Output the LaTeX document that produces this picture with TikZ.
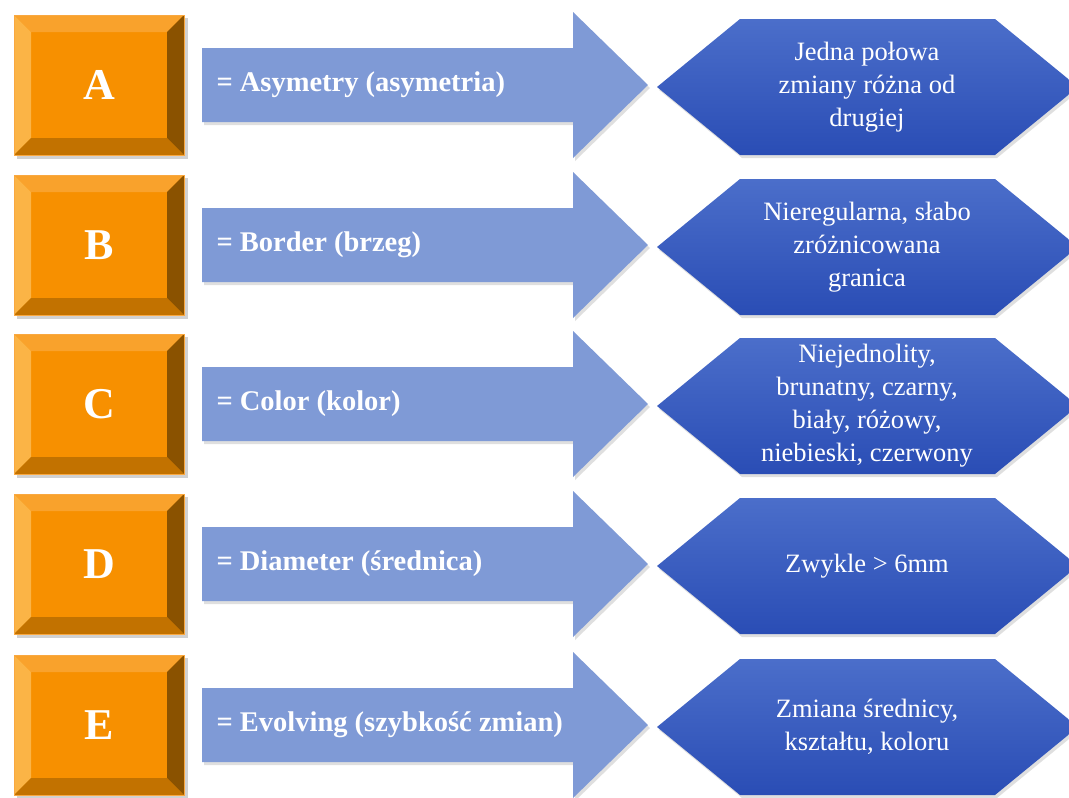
\documentclass[tikz,border=0pt]{standalone}
\usepackage{fontspec}
\setmainfont{Liberation Serif}
\usetikzlibrary{shadows}
\definecolor{orFace}{HTML}{F79000}
\definecolor{orTop}{HTML}{F9A22C}
\definecolor{orLeft}{HTML}{FBB446}
\definecolor{orRight}{HTML}{8A5200}
\definecolor{orBot}{HTML}{C27200}
\definecolor{orEdge}{HTML}{F9A840}
\definecolor{arrowBlue}{HTML}{7F9AD6}
\definecolor{hexTop}{HTML}{4B6ECA}
\definecolor{hexBot}{HTML}{2A4DB5}
\newcommand\abcdrow[5]{%
  % bevelled orange box
  \fill[black,opacity=0.18] (17,#2-67) rectangle (188,#2+74);
  \fill[orFace] (14,#2-70) rectangle (184,#2+70);
  \fill[orTop] (14,#2-70) -- (184,#2-70) -- (167,#2-53) -- (31,#2-53) -- cycle;
  \fill[orLeft] (14,#2-70) -- (31,#2-53) -- (31,#2+53) -- (14,#2+70) -- cycle;
  \fill[orRight] (184,#2-70) -- (184,#2+70) -- (167,#2+53) -- (167,#2-53) -- cycle;
  \fill[orBot] (14,#2+70) -- (184,#2+70) -- (167,#2+53) -- (31,#2+53) -- cycle;
  \draw[orEdge, line width=0.8pt] (14,#2-70) rectangle (184,#2+70);
  \node[lettertext] (L#1) at (99,#2) {#3};
  % arrow
  \fill[arrowshape] (202,#2-37) -- (573,#2-37) -- (573,#2-73) -- (648,#2) -- (573,#2+73) -- (573,#2+37) -- (202,#2+37) -- cycle;
  \node[arrowtext] (T#1) at (213,#2) {#4};
  % hexagon
  \path[hexshape] (657,#2+2) -- (740,#2-66) -- (995,#2-66) -- (1078,#2+2) -- (995,#2+70) -- (740,#2+70) -- cycle;
  \node[hextext] (H#1) at (867,#2+2) {#5};
}
\begin{document}
\begin{tikzpicture}[x=1pt,y=-1pt,
  lettertext/.style={text=white, font=\fontsize{44}{44}\selectfont\bfseries},
  arrowtext/.style={anchor=west, text=white, font=\fontsize{28.5}{30}\selectfont\bfseries},
  hextext/.style={text=white, align=center, font=\fontsize{26.5}{33}\selectfont},
  arrowshape/.style={fill=arrowBlue, drop shadow={opacity=0.25, shadow xshift=2pt, shadow yshift=-3pt}},
  hexshape/.style={top color=hexTop, bottom color=hexBot, drop shadow={opacity=0.25, shadow xshift=2pt, shadow yshift=-3pt}}]
\useasboundingbox (0,0) rectangle (1069,798);
\fill[white] (0,0) rectangle (1069,798);
\begin{scope}
\clip (0,0) rectangle (1069,798);
\abcdrow{a}{85}{A}{= Asymetry (asymetria)}{Jedna połowa\\zmiany różna od\\drugiej}
\abcdrow{b}{245}{B}{= Border (brzeg)}{Nieregularna, słabo\\zróżnicowana\\granica}
\abcdrow{c}{404}{C}{= Color (kolor)}{Niejednolity,\\brunatny, czarny,\\biały, różowy,\\niebieski, czerwony}
\abcdrow{d}{564}{D}{= Diameter (średnica)}{Zwykle > 6mm}
\abcdrow{e}{725}{E}{= Evolving (szybkość zmian)}{Zmiana średnicy,\\kształtu, koloru}
\end{scope}
\end{tikzpicture}
\end{document}
